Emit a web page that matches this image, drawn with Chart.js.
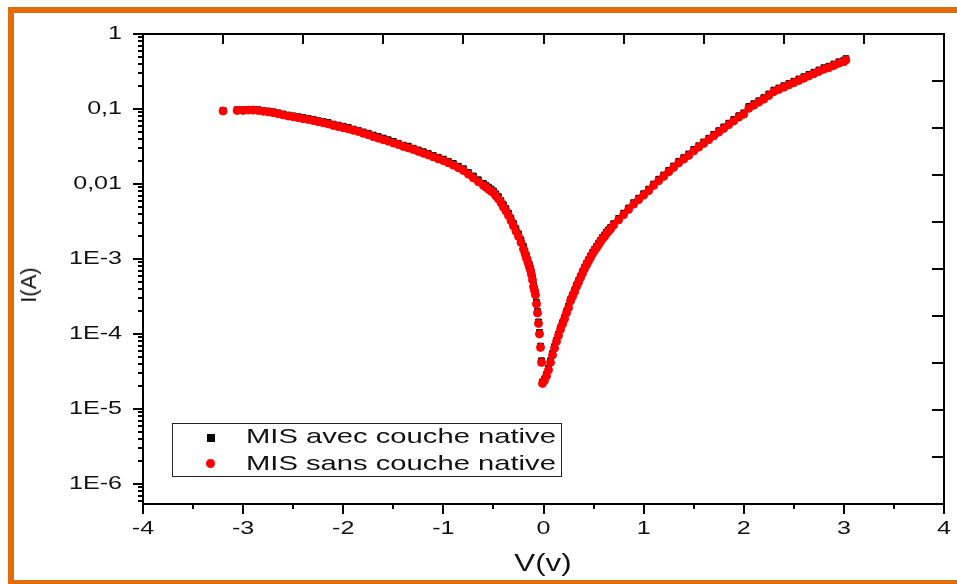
<!DOCTYPE html>
<html>
<head>
<meta charset="utf-8">
<script src="https://cdn.jsdelivr.net/npm/chart.js@4.4.1/dist/chart.umd.min.js"></script>
<style>
  html, body { margin: 0; padding: 0; background: #fff; overflow: hidden; }
  #wrap { position: relative; width: 957px; height: 584px; overflow: hidden;
          font-family: "Liberation Sans", Arial, sans-serif; color: #111; }
  #chart { position: absolute; left: 0; top: 0; }
  #frame { position: absolute; left: 8px; top: 7px; width: 1000px; height: 579px;
           box-sizing: border-box; border: 6px solid #e36c0a; pointer-events: none; }
  #legend { position: absolute; left: 172px; top: 423px; width: 390px; height: 54px;
            box-sizing: border-box; border: 1px solid #222; background: #fff; }
  #legend .mk { position: absolute; }
  #legend .lbl { position: absolute; left: 73px; font-size: 21px; line-height: 27px;
                 white-space: nowrap; transform: scaleX(1.39); transform-origin: left center; }
  #ytitle { position: absolute; left: 29px; top: 285px; font-size: 22px; line-height: 1;
            white-space: nowrap; transform: translate(-50%, -50%) rotate(-90deg); }
  #xtitle { position: absolute; left: 543px; top: 552px; font-size: 23px; line-height: 1;
            white-space: nowrap; transform: translateX(-50%) scaleX(1.36); }
</style>
</head>
<body>
<div id="wrap">
  <canvas id="chart" width="957" height="584"></canvas>
  <div id="legend"></div>
  <div id="ytitle"></div>
  <div id="xtitle"></div>
  <div id="frame"></div>
</div>
<script>
// axis text
var xTitle = 'V(v)';
var yTitle = 'I(A)';
var yTickValues = [1e-6, 1e-5, 1e-4, 1e-3, 1e-2, 1e-1, 1];
var yTickLabels = ['1E-6', '1E-5', '1E-4', '1E-3', '0,01', '0,1', '1'];
var seriesNames = ['MIS avec couche native', 'MIS sans couche native'];

// voltage (V) - reverse branch then forward branch
var voltage = [
  -3.20, -3.06, -3.00, -2.95, -2.90, -2.85, -2.80, -2.75, -2.70, -2.65,
  -2.60, -2.55, -2.50, -2.45, -2.40, -2.35, -2.30, -2.25, -2.20, -2.15,
  -2.10, -2.05, -2.00, -1.95, -1.90, -1.85, -1.80, -1.75, -1.70, -1.65,
  -1.60, -1.55, -1.50, -1.45, -1.40, -1.35, -1.30, -1.25, -1.20, -1.15,
  -1.10, -1.05, -1.00, -0.95, -0.90, -0.85, -0.80, -0.75, -0.70, -0.65,
  -0.600, -0.575, -0.550, -0.525, -0.500, -0.475, -0.450, -0.425, -0.400, -0.375,
  -0.350, -0.325, -0.300, -0.275, -0.250, -0.225, -0.200, -0.185, -0.170, -0.155,
  -0.140, -0.130, -0.120, -0.110, -0.100, -0.090, -0.080, -0.070, -0.060, -0.050,
  -0.040, -0.030, -0.020, -0.010,
  0.01, 0.03, 0.05, 0.07, 0.09, 0.11, 0.13, 0.15, 0.17, 0.19,
  0.21, 0.23, 0.25, 0.27, 0.29, 0.31, 0.33, 0.35, 0.37, 0.39,
  0.41, 0.43, 0.45, 0.47, 0.49, 0.51, 0.53, 0.55, 0.57, 0.59,
  0.61, 0.63, 0.65, 0.67, 0.70, 0.75, 0.80, 0.85, 0.90, 0.95,
  1.00, 1.05, 1.10, 1.15, 1.20, 1.25, 1.30, 1.35, 1.40, 1.45,
  1.50, 1.55, 1.60, 1.65, 1.70, 1.75, 1.80, 1.85, 1.90, 1.95,
  2.00, 2.05, 2.10, 2.15, 2.20, 2.25, 2.30, 2.35, 2.40, 2.45,
  2.50, 2.55, 2.60, 2.65, 2.70, 2.75, 2.80, 2.85, 2.90, 2.95,
  3.00, 3.02
];

// current (A), MIS avec couche native
var currentAvec = [
  9.6e-2, 9.8e-2, 9.8e-2, 9.9e-2, 9.9e-2, 9.8e-2, 9.6e-2, 9.4e-2, 9.2e-2, 8.9e-2,
  8.6e-2, 8.3e-2, 8.1e-2, 7.9e-2, 7.7e-2, 7.5e-2, 7.3e-2, 7.0e-2, 6.8e-2, 6.6e-2,
  6.3e-2, 6.1e-2, 5.9e-2, 5.7e-2, 5.4e-2, 5.2e-2, 4.95e-2, 4.75e-2, 4.5e-2, 4.3e-2,
  4.1e-2, 3.9e-2, 3.7e-2, 3.5e-2, 3.3e-2, 3.2e-2, 3.0e-2, 2.85e-2, 2.7e-2, 2.55e-2,
  2.4e-2, 2.27e-2, 2.15e-2, 2.01e-2, 1.88e-2, 1.73e-2, 1.6e-2, 1.43e-2, 1.28e-2, 1.14e-2,
  1.02e-2, 9.6e-3, 9.1e-3, 8.6e-3, 8.1e-3, 7.4e-3, 6.8e-3, 6.0e-3, 5.3e-3, 4.7e-3,
  4.1e-3, 3.5e-3, 2.98e-3, 2.54e-3, 2.17e-3, 1.8e-3, 1.47e-3, 1.27e-3, 1.11e-3, 9.7e-4,
  8.4e-4, 7.6e-4, 6.6e-4, 5.6e-4, 4.5e-4, 4.0e-4, 3.5e-4, 2.65e-4, 2.0e-4, 1.45e-4,
  1.05e-4, 6.9e-5, 4.4e-5, 2.3e-5,
  2.5e-5, 2.9e-5, 3.5e-5, 4.4e-5, 5.5e-5, 6.8e-5, 8.3e-5, 1.0e-4, 1.21e-4, 1.42e-4,
  1.66e-4, 2.0e-4, 2.36e-4, 2.88e-4, 3.32e-4, 3.81e-4, 4.48e-4, 5.14e-4, 5.9e-4, 6.78e-4,
  7.78e-4, 8.74e-4, 9.8e-4, 1.1e-3, 1.23e-3, 1.35e-3, 1.48e-3, 1.63e-3, 1.78e-3, 1.95e-3,
  2.1e-3, 2.3e-3, 2.46e-3, 2.64e-3, 2.96e-3, 3.48e-3, 4.09e-3, 4.8e-3, 5.64e-3, 6.48e-3,
  7.43e-3, 8.54e-3, 1.0e-2, 1.16e-2, 1.32e-2, 1.52e-2, 1.74e-2, 2.0e-2, 2.25e-2, 2.52e-2,
  2.89e-2, 3.24e-2, 3.64e-2, 4.08e-2, 4.59e-2, 5.15e-2, 5.78e-2, 6.48e-2, 7.27e-2, 8.15e-2,
  8.9e-2, 1.08e-1, 1.18e-1, 1.29e-1, 1.42e-1, 1.59e-1, 1.79e-1, 1.91e-1, 2.05e-1, 2.19e-1,
  2.35e-1, 2.52e-1, 2.7e-1, 2.89e-1, 3.1e-1, 3.32e-1, 3.56e-1, 3.73e-1, 3.99e-1, 4.27e-1,
  4.48e-1, 4.7e-1
];

// current (A), MIS sans couche native
var currentSans = [
  9.40e-2, 9.55e-2, 9.55e-2, 9.66e-2, 9.66e-2, 9.55e-2, 9.33e-2, 9.12e-2, 8.91e-2, 8.61e-2,
  8.32e-2, 8.04e-2, 7.85e-2, 7.67e-2, 7.41e-2, 7.24e-2, 7.00e-2, 6.76e-2, 6.53e-2, 6.31e-2,
  6.03e-2, 5.82e-2, 5.62e-2, 5.43e-2, 5.19e-2, 5.01e-2, 4.73e-2, 4.52e-2, 4.27e-2, 4.07e-2,
  3.89e-2, 3.72e-2, 3.51e-2, 3.35e-2, 3.16e-2, 3.02e-2, 2.88e-2, 2.72e-2, 2.57e-2, 2.43e-2,
  2.29e-2, 2.16e-2, 2.04e-2, 1.91e-2, 1.78e-2, 1.64e-2, 1.51e-2, 1.35e-2, 1.20e-2, 1.07e-2,
  9.55e-3, 9.02e-3, 8.51e-3, 8.04e-3, 7.59e-3, 6.92e-3, 6.31e-3, 5.62e-3, 4.90e-3, 4.37e-3,
  3.80e-3, 3.24e-3, 2.75e-3, 2.34e-3, 2.00e-3, 1.66e-3, 1.35e-3, 1.17e-3, 1.02e-3, 8.91e-4,
  7.76e-4, 7.08e-4, 6.17e-4, 5.25e-4, 4.27e-4, 3.80e-4, 3.31e-4, 2.51e-4, 1.91e-4, 1.38e-4,
  1.00e-4, 6.61e-5, 4.17e-5, 2.19e-5,
  2.40e-5, 2.75e-5, 3.31e-5, 4.17e-5, 5.25e-5, 6.46e-5, 7.94e-5, 9.55e-5, 1.15e-4, 1.35e-4,
  1.58e-4, 1.91e-4, 2.24e-4, 2.75e-4, 3.16e-4, 3.63e-4, 4.27e-4, 4.90e-4, 5.62e-4, 6.46e-4,
  7.41e-4, 8.32e-4, 9.33e-4, 1.05e-3, 1.17e-3, 1.29e-3, 1.41e-3, 1.55e-3, 1.70e-3, 1.86e-3,
  2.00e-3, 2.19e-3, 2.34e-3, 2.51e-3, 2.82e-3, 3.31e-3, 3.89e-3, 4.57e-3, 5.37e-3, 6.17e-3,
  7.08e-3, 8.13e-3, 9.55e-3, 1.10e-2, 1.26e-2, 1.45e-2, 1.66e-2, 1.91e-2, 2.14e-2, 2.40e-2,
  2.75e-2, 3.09e-2, 3.47e-2, 3.89e-2, 4.37e-2, 4.90e-2, 5.50e-2, 6.17e-2, 6.92e-2, 7.76e-2,
  8.51e-2, 1.02e-1, 1.12e-1, 1.23e-1, 1.35e-1, 1.51e-1, 1.70e-1, 1.82e-1, 1.95e-1, 2.09e-1,
  2.24e-1, 2.40e-1, 2.57e-1, 2.75e-1, 2.95e-1, 3.16e-1, 3.39e-1, 3.55e-1, 3.80e-1, 4.07e-1,
  4.27e-1, 4.50e-1
];

function toPoints(ys) {
  return voltage.map(function (v, i) { return {x: v, y: ys[i]}; });
}

// the source picture is stretched sideways, so widen the canvas tick text too
var wideText = {
  id: 'wideText',
  beforeDraw: function (chart) {
    var ctx = chart.ctx;
    if (ctx.plainFillText) return;
    ctx.plainFillText = ctx.fillText;
    ctx.fillText = function (t, x, y) {
      this.save();
      this.translate(x, y);
      this.scale(1.32, 1);
      this.plainFillText(t, 0, 0);
      this.restore();
    };
  }
};

// box around plot + Origin style ticks (out on left/bottom, in on top/right)
var frameTicks = {
  id: 'frameTicks',
  afterDraw: function (chart) {
    var ctx = chart.ctx, a = chart.chartArea;
    var x = chart.scales.x, y = chart.scales.y;
    ctx.save();
    ctx.strokeStyle = '#000';
    ctx.lineWidth = 2;
    ctx.strokeRect(a.left, a.top, a.right - a.left, a.bottom - a.top);
    ctx.beginPath();
    for (var v = x.min; v <= x.max; v += 0.5) {
      var px = Math.round(x.getPixelForValue(v));
      ctx.moveTo(px, a.bottom);
      ctx.lineTo(px, a.bottom + (v % 1 === 0 ? 10 : 5));
    }
    for (var e = -7; e <= 0; e++) {
      for (var m = 1; m <= 9; m++) {
        var val = m * Math.pow(10, e);
        if (val < y.min || val > y.max) continue;
        var py = Math.round(y.getPixelForValue(val));
        ctx.moveTo(a.left, py);
        ctx.lineTo(a.left - (m === 1 ? 10 : 5), py);
      }
    }
    for (var k = 1; k < 10; k++) {
      var tx = Math.round(a.left + k * (a.right - a.left) / 10);
      ctx.moveTo(tx, a.top);
      ctx.lineTo(tx, a.top + 10);
      var ry = Math.round(a.top + k * (a.bottom - a.top) / 10);
      ctx.moveTo(a.right, ry);
      ctx.lineTo(a.right - 12, ry);
    }
    ctx.stroke();
    ctx.restore();
  }
};

var tickFont = {family: '"Liberation Sans", Arial, sans-serif', size: 19};

var ctx = document.getElementById('chart').getContext('2d');
var ivChart = new Chart(ctx, {
  type: 'scatter',
  data: {
    datasets: [{
      label: seriesNames[0],
      data: toPoints(currentAvec),
      pointStyle: 'rect',
      pointRadius: 4,
      pointBorderWidth: 1,
      backgroundColor: '#000',
      borderColor: '#000',
      order: 1
    }, {
      label: seriesNames[1],
      data: toPoints(currentSans),
      pointStyle: 'circle',
      pointRadius: 4,
      pointBorderWidth: 1,
      backgroundColor: '#ff0000',
      borderColor: '#ff0000',
      order: 0
    }]
  },
  options: {
    responsive: false,
    animation: false,
    layout: { padding: { top: 34, right: 13, left: 0, bottom: 0 } },
    plugins: {
      legend: { display: false },
      tooltip: { enabled: false }
    },
    scales: {
      x: {
        type: 'linear',
        min: -4,
        max: 4,
        grid: { display: false, drawTicks: false },
        border: { display: false },
        ticks: { stepSize: 1, padding: 13, color: '#111', font: tickFont },
        afterFit: function (s) {
          s.height = 80;
          s.paddingLeft = 0;
          s.paddingRight = 0;
        }
      },
      y: {
        type: 'logarithmic',
        min: 5.4e-7,
        max: 1,
        grid: { display: false, drawTicks: false },
        border: { display: false },
        ticks: {
          padding: 21,
          color: '#111',
          font: tickFont,
          callback: function (value, index) { return yTickLabels[index]; }
        },
        afterBuildTicks: function (s) {
          s.ticks = yTickValues.map(function (v) { return {value: v}; });
        },
        afterFit: function (s) { s.width = 143; }
      }
    }
  },
  plugins: [wideText, frameTicks]
});

// legend inside the plot, like the original
var legendEl = document.getElementById('legend');
ivChart.data.datasets.forEach(function (ds, i) {
  var mk = document.createElement('span');
  mk.className = 'mk';
  if (ds.pointStyle === 'rect') {
    mk.style.cssText = 'left:34px;top:10px;width:8px;height:8px;background:' + ds.backgroundColor;
  } else {
    mk.style.cssText = 'left:33px;top:35px;width:9px;height:9px;border-radius:50%;background:' + ds.backgroundColor;
  }
  legendEl.appendChild(mk);
  var lbl = document.createElement('span');
  lbl.className = 'lbl';
  lbl.style.top = (-2 + i * 27) + 'px';
  lbl.textContent = ds.label;
  legendEl.appendChild(lbl);
});
document.getElementById('xtitle').textContent = xTitle;
document.getElementById('ytitle').textContent = yTitle;
</script>
</body>
</html>
